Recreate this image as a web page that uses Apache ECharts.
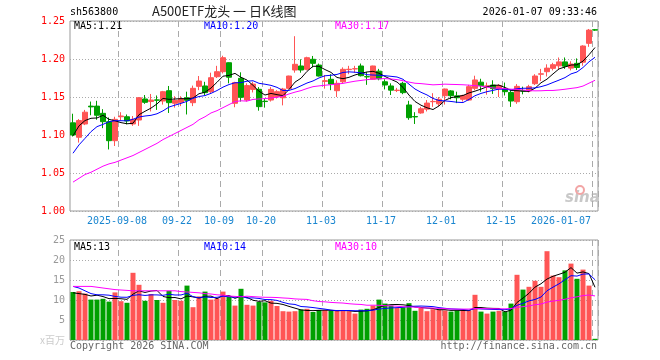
<!DOCTYPE html>
<html><head><meta charset="utf-8">
<script src="https://cdn.jsdelivr.net/npm/echarts@6/dist/echarts.min.js"></script>
<style>html,body{margin:0;padding:0;background:#fff}#c{width:660px;height:360px}</style>
</head><body><div id="c"></div>
<script>
// ---- data ----
const dates = [
'2025-08-27','2025-08-28','2025-08-29','2025-09-01','2025-09-02','2025-09-03','2025-09-04','2025-09-05',
'2025-09-08','2025-09-09','2025-09-10','2025-09-11','2025-09-12','2025-09-15','2025-09-16','2025-09-17','2025-09-18','2025-09-19',
'2025-09-22','2025-09-23','2025-09-24','2025-09-25','2025-09-26','2025-09-29','2025-09-30',
'2025-10-09','2025-10-10','2025-10-13','2025-10-14','2025-10-15','2025-10-16','2025-10-17',
'2025-10-20','2025-10-21','2025-10-22','2025-10-23','2025-10-24','2025-10-27','2025-10-28','2025-10-29','2025-10-30','2025-10-31',
'2025-11-03','2025-11-04','2025-11-05','2025-11-06','2025-11-07','2025-11-10','2025-11-11','2025-11-12','2025-11-13','2025-11-14',
'2025-11-17','2025-11-18','2025-11-19','2025-11-20','2025-11-21','2025-11-24','2025-11-25','2025-11-26','2025-11-27','2025-11-28',
'2025-12-01','2025-12-02','2025-12-03','2025-12-04','2025-12-05','2025-12-08','2025-12-09','2025-12-10','2025-12-11','2025-12-12',
'2025-12-15','2025-12-16','2025-12-17','2025-12-18','2025-12-19','2025-12-22','2025-12-23','2025-12-24','2025-12-25','2025-12-26',
'2025-12-29','2025-12-30','2025-12-31','2026-01-05','2026-01-06','2026-01-07'];

const opens = [1.116,1.097,1.1145,1.138,1.138,1.1285,1.1175,1.0925,1.124,1.124,
1.1145,1.1197,1.1474,1.144,1.1462,1.1447,1.1583,1.1417,1.143,1.149,
1.1425,1.164,1.1645,1.157,1.1767,1.1833,1.1951,1.1417,1.1746,1.146,
1.160,1.1601,1.1445,1.146,1.1504,1.149,1.1614,1.1855,1.1908,1.1864,
1.1996,1.192,1.1705,1.1733,1.1583,1.170,1.1860,1.1870,1.1908,1.1768,
1.1733,1.184,1.170,1.1645,1.1585,1.168,1.1395,1.1243,1.129,1.134,
1.1438,1.141,1.1517,1.158,1.1515,1.147,1.146,1.1614,1.1695,1.1642,
1.1657,1.1605,1.1614,1.156,1.1438,1.1583,1.158,1.1675,1.180,1.1833,
1.1877,1.191,1.1962,1.188,1.1943,1.1958,1.2206,1.2385];
const closes = [1.100,1.119,1.130,1.137,1.126,1.1175,1.0925,1.1206,1.125,1.1185,
1.1206,1.149,1.143,1.146,1.1458,1.157,1.1425,1.1457,1.1478,1.1457,
1.1614,1.171,1.1557,1.1754,1.1833,1.2017,1.176,1.169,1.1496,1.165,
1.167,1.1373,1.1440,1.160,1.157,1.1605,1.1776,1.193,1.1855,1.2017,
1.1943,1.1776,1.1715,1.167,1.168,1.1864,1.1865,1.1872,1.178,1.1765,
1.1908,1.174,1.1658,1.159,1.159,1.1557,1.1228,1.1238,1.1345,1.142,
1.1442,1.147,1.1605,1.1517,1.149,1.152,1.1636,1.1724,1.165,1.1646,
1.161,1.165,1.157,1.1447,1.164,1.1578,1.1636,1.1776,1.1805,1.188,
1.1925,1.1962,1.1905,1.1934,1.1888,1.2171,1.238,1.238];
const lows = [1.098,1.090,1.113,1.126,1.120,1.109,1.081,1.0855,1.119,1.114,
1.112,1.112,1.141,1.131,1.133,1.140,1.129,1.136,1.138,1.127,
1.138,1.159,1.1526,1.155,1.175,1.181,1.168,1.1365,1.144,1.144,
1.156,1.132,1.136,1.144,1.148,1.139,1.160,1.182,1.182,1.185,
1.189,1.177,1.161,1.159,1.150,1.168,1.180,1.182,1.177,1.166,
1.173,1.172,1.160,1.1526,1.1565,1.1537,1.120,1.1145,1.128,1.131,
1.137,1.138,1.140,1.147,1.142,1.144,1.145,1.159,1.157,1.153,
1.154,1.150,1.152,1.137,1.141,1.1535,1.156,1.1658,1.171,1.177,
1.185,1.186,1.187,1.185,1.1855,1.1912,1.216,1.237];
const highs = [1.128,1.121,1.133,1.144,1.145,1.134,1.123,1.124,1.130,1.127,
1.125,1.150,1.1526,1.154,1.152,1.158,1.1645,1.151,1.151,1.157,
1.165,1.1776,1.170,1.182,1.191,1.2043,1.1955,1.170,1.1825,1.168,
1.170,1.163,1.148,1.163,1.159,1.162,1.178,1.230,1.1996,1.203,
1.204,1.194,1.179,1.180,1.172,1.189,1.191,1.191,1.194,1.183,
1.1912,1.187,1.1733,1.168,1.162,1.170,1.145,1.130,1.137,1.146,
1.155,1.150,1.161,1.159,1.157,1.153,1.166,1.178,1.174,1.169,
1.172,1.167,1.169,1.160,1.167,1.1636,1.166,1.180,1.187,1.193,
1.195,1.202,1.202,1.197,1.2008,1.218,1.2395,1.2395];
const volumes = [12.0,12.2,11.6,10.1,10.1,10.3,9.6,11.9,9.7,9.3,
16.8,13.8,9.8,11.5,10.0,9.3,12.3,10.0,9.8,13.6,
8.2,10.9,12.1,10.1,10.4,12.1,10.9,8.6,12.8,8.8,
8.6,9.5,9.4,9.8,8.5,7.2,7.1,7.2,7.6,7.8,
7.0,7.5,7.5,7.3,7.3,7.3,7.2,6.6,7.6,7.8,
8.6,10.1,9.1,8.6,8.0,8.2,9.2,7.3,8.0,7.2,
7.7,7.6,7.4,7.1,7.4,7.4,7.4,11.3,7.1,6.6,
7.1,7.3,7.1,9.1,16.3,12.6,13.3,14.8,13.3,22.2,
16.1,15.7,17.4,19.1,15.3,17.6,13.6,0.3];
const ma5Head = [1.099,1.112,1.119,1.122];
const ma10Head = [1.076,1.087,1.0956,1.1044,1.111,1.114,1.1175,1.1188,1.1188];
const ma30Head = [1.038,1.043,1.048,1.051,1.055,1.059,1.062,1.064,1.067,1.070,
1.073,1.077,1.081,1.085,1.089,1.094,1.098,1.102,1.106,1.110,
1.114,1.120,1.124,1.129,1.132,1.136,1.140,1.144,1.145];
const volMa5Head = [11.8,11.6,11.4,11.0];
const volMa10Head = [13.4,13.0,12.3,11.6,11.3,11.3,11.2,10.9,10.7];
const volMa30Head = [13.4,13.4,13.4,13.4,13.2,13.0,12.8,12.6,12.5,12.4,
12.3,12.3,12.3,12.3,12.3,12.3,12.3,12.3,12.1,12.0,
11.9,11.8,11.6,11.5,11.3,11.2,11.0,10.9,10.8];
const tickDates = ['2025-09-08','2025-09-22','2025-10-09','2025-10-20','2025-11-03','2025-11-17','2025-12-01','2025-12-15','2026-01-07'];
const tickLabels = ['2025-09-08','09-22','10-09','10-20','11-03','11-17','12-01','12-15','2026-01-07'];
const priceLegend = ['MA5:1.21','MA10:1.20','MA30:1.17'];
const volLegend = ['MA5:13','MA10:14','MA30:10'];
const titleText = 'A500ETF龙头 一 日K线图';
const codeText = 'sh563800';
const timeText = '2026-01-07 09:33:46';

// ---- build ----
const RED = '#ff5555', GREEN = '#00a000';
const MONO = 'DejaVu Sans Mono';
function ma(arr, n, head) {
  return arr.map((_, i) => {
    if (i < n - 1) return head[i];
    let s = 0; for (let k = i - n + 1; k <= i; k++) s += arr[k];
    return +(s / n).toFixed(4);
  });
}
const tickIdx = tickDates.map(d => dates.indexOf(d));
const isTick = i => tickIdx.indexOf(i) >= 0;
const candle = dates.map((_, i) => [opens[i], closes[i], lows[i], highs[i]]);
const volData = volumes.map((v, i) => ({value: v, itemStyle: {color: closes[i] >= opens[i] ? RED : GREEN}}));
const lineS = (name, data, color, xi, yi) => ({name, type: 'line', data, xAxisIndex: xi, yAxisIndex: yi,
  symbol: 'none', lineStyle: {width: 1, color}, itemStyle: {color}, silent: true, z: 5});

const chart = echarts.init(document.getElementById('c'), null, {renderer: 'canvas'});
const splitV = {show: true, interval: (i) => isTick(i), lineStyle: {color: '#aaa', width: 1, type: [6, 4]}};
const splitH = {show: true, lineStyle: {color: '#aaa', width: 1, type: [1, 2]}};
const txt = (x, y, s, fill, extra) => Object.assign({type: 'text', x, y, silent: true,
  style: Object.assign({text: s, fill, font: '10px ' + MONO, textVerticalAlign: 'top'}, extra || {})});
chart.setOption({
  animation: false,
  backgroundColor: '#fff',
  grid: [
    {left: 70, top: 21, width: 528, height: 190, show: true, borderColor: '#999', borderWidth: 1},
    {left: 70, top: 240, width: 528, height: 100, show: true, borderColor: '#999', borderWidth: 1}
  ],
  xAxis: [
    {type: 'category', gridIndex: 0, data: dates, boundaryGap: true,
     axisLine: {show: false}, axisTick: {show: false}, splitLine: splitV,
     axisLabel: {interval: (i) => isTick(i), margin: 5, fontFamily: MONO, fontSize: 10, color: '#1a86d0',
       formatter: (v) => {
         const k = tickDates.indexOf(v); const t = tickLabels[k];
         return k === tickDates.length - 1 ? '{e|' + t + '}' : '{n|' + t + '}';
       },
       rich: {n: {fontFamily: MONO, fontSize: 10, color: '#1a86d0', padding: [0, 8, 0, 0]},
              e: {fontFamily: MONO, fontSize: 10, color: '#1a86d0', padding: [0, 68, 0, 0]}}}},
    {type: 'category', gridIndex: 1, data: dates, boundaryGap: true,
     axisLine: {show: false}, axisTick: {show: false}, axisLabel: {show: false}, splitLine: splitV}
  ],
  yAxis: [
    {type: 'value', gridIndex: 0, min: 1.00, max: 1.25, interval: 0.05, scale: true,
     axisLine: {show: false}, axisTick: {show: false}, splitLine: splitH,
     axisLabel: {margin: 5, fontFamily: MONO, fontSize: 10, color: '#ff0000', formatter: v => v.toFixed(2)}},
    {type: 'value', gridIndex: 1, min: 0, max: 25, interval: 5,
     axisLine: {show: false}, axisTick: {show: false}, splitLine: splitH,
     axisLabel: {margin: 5, fontFamily: MONO, fontSize: 10, color: '#999',
       formatter: v => v === 0 ? '{u|x百万}' : String(v),
       rich: {u: {fontFamily: 'Noto Sans CJK SC', fontSize: 10, color: '#ccc'}}}}
  ],
  series: [
    {type: 'candlestick', xAxisIndex: 0, yAxisIndex: 0, data: candle, barWidth: 5, silent: true,
     itemStyle: {color: RED, color0: GREEN, borderColor: RED, borderColor0: GREEN, borderWidth: 1}},
    lineS('MA5', ma(closes, 5, ma5Head), '#000000', 0, 0),
    lineS('MA10', ma(closes, 10, ma10Head), '#0000ff', 0, 0),
    lineS('MA30', ma(closes, 30, ma30Head), '#ff00ff', 0, 0),
    {type: 'bar', xAxisIndex: 1, yAxisIndex: 1, data: volData, barWidth: 5, silent: true},
    lineS('VMA5', ma(volumes, 5, volMa5Head), '#000000', 1, 1),
    lineS('VMA10', ma(volumes, 10, volMa10Head), '#0000ff', 1, 1),
    lineS('VMA30', ma(volumes, 30, volMa30Head), '#ff00ff', 1, 1)
  ],
  graphic: [
    txt(70, 7, codeText, '#000'),
    txt(152, 5, titleText, '#222', {font: '13px "Noto Sans CJK SC"'}),
    txt(597, 7, timeText, '#000', {textAlign: 'right'}),
    txt(74, 21, priceLegend[0], '#000'),
    txt(204, 21, priceLegend[1], '#0000ff'),
    txt(335, 21, priceLegend[2], '#ff00ff'),
    txt(74, 242, volLegend[0], '#000'),
    txt(204, 242, volLegend[1], '#0000ff'),
    txt(335, 242, volLegend[2], '#ff00ff'),
    txt(70, 341, 'Copyright 2026 SINA.COM', '#666'),
    txt(597, 341, 'http://finance.sina.com.cn', '#666', {textAlign: 'right'}),
    {type: 'text', x: 565, y: 191, silent: true, z: 0,
     style: {text: 'sina', fill: '#c8c8c8', font: 'italic bold 15px "DejaVu Sans"', textVerticalAlign: 'top'}},
    {type: 'circle', shape: {cx: 580, cy: 190, r: 4}, silent: true, z: 0,
     style: {fill: 'none', stroke: '#f2a5a5', lineWidth: 2}}
  ]
});
</script></body></html>
